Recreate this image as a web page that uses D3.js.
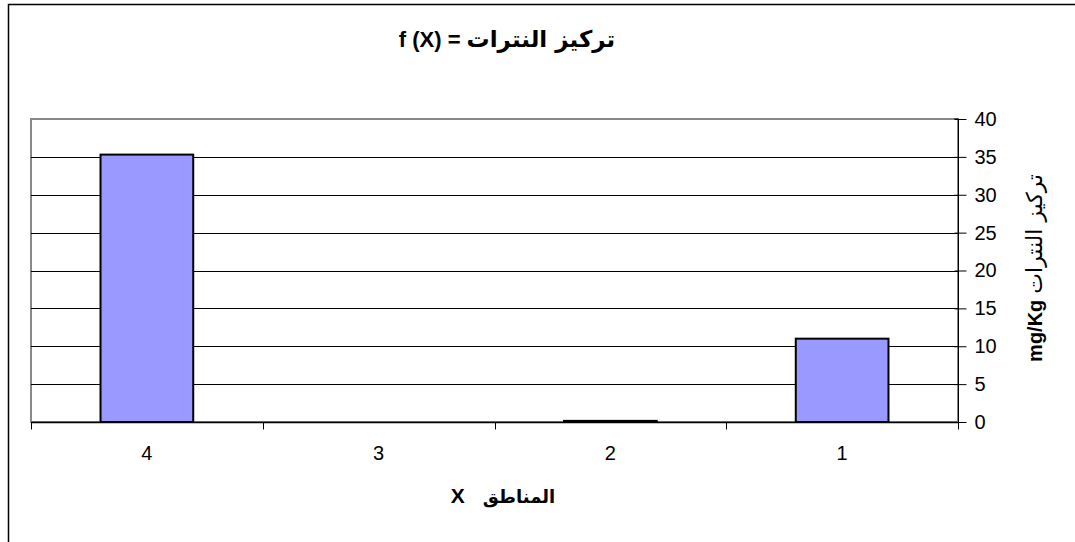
<!DOCTYPE html>
<html>
<head>
<meta charset="utf-8">
<script src="https://cdn.jsdelivr.net/npm/d3@7"></script>
<style>
  html, body { margin: 0; padding: 0; background: #fff; }
  svg { display: block; }
  text { font-family: "Liberation Sans", Arial, sans-serif; fill: #000; }
</style>
</head>
<body>
<svg id="chart" width="1075" height="542"></svg>
<script>
// Regions (shown right-to-left order) and nitrate concentration, mg/Kg
const categories = ["4", "3", "2", "1"];
const values = [35.3, 0, 0.15, 11];
const yTicks = [0, 5, 10, 15, 20, 25, 30, 35, 40];

const arabicFont = "DejaVu Sans, sans-serif";

const svg = d3.select("#chart");
const W = 1075, H = 542;
const plot = { left: 31, top: 119, right: 958, bottom: 422 };

// Outer chart border (only left and top edges fall inside the view)
svg.append("rect")
  .attr("x", 8.5).attr("y", 4.5)
  .attr("width", W + 20).attr("height", H + 20)
  .attr("fill", "#fff").attr("stroke", "#000").attr("stroke-width", 1.5);

const x = d3.scaleBand()
  .domain(categories)
  .range([plot.left, plot.right])
  .paddingInner(0.6).paddingOuter(0.3);

const y = d3.scaleLinear()
  .domain([0, 40])
  .range([plot.bottom, plot.top]);

// Plot area frame
svg.append("rect")
  .attr("x", plot.left).attr("y", plot.top)
  .attr("width", plot.right - plot.left).attr("height", plot.bottom - plot.top)
  .attr("fill", "#fff").attr("stroke", "#888").attr("stroke-width", 2);

// Horizontal gridlines
svg.append("g")
  .selectAll("line")
  .data(yTicks.filter(d => d > 0 && d < 40))
  .join("line")
  .attr("x1", plot.left).attr("x2", plot.right)
  .attr("y1", d => Math.round(y(d)) + 0.5).attr("y2", d => Math.round(y(d)) + 0.5)
  .attr("stroke", "#000").attr("stroke-width", 1);

// Bars
svg.append("g")
  .selectAll("rect")
  .data(categories.map((c, i) => ({ c, v: values[i] })).filter(d => d.v > 0))
  .join("rect")
  .attr("x", d => x(d.c))
  .attr("y", d => y(d.v))
  .attr("width", x.bandwidth())
  .attr("height", d => Math.max(0, y(0) - y(d.v)))
  .attr("fill", "#9999ff")
  .attr("stroke", "#000")
  .attr("stroke-width", 2);

// Y axis on the right
const yAxis = d3.axisRight(y).tickValues(yTicks).tickSize(8).tickPadding(8);
const gy = svg.append("g")
  .attr("transform", `translate(${plot.right + 0.5},0)`)
  .call(yAxis);
gy.select(".domain").attr("stroke", "#000").attr("d", `M-4,${plot.top}H0V${plot.bottom}`);
gy.selectAll(".tick line").attr("x1", -4).attr("x2", 8).attr("stroke", "#000");
gy.selectAll(".tick text")
  .attr("font-size", 20)
  .attr("font-family", "Liberation Sans, Arial, sans-serif")
  .attr("fill", "#000");

// X axis with ticks at category boundaries
const gx = svg.append("g").attr("transform", `translate(0,${plot.bottom + 0.5})`);
gx.append("line")
  .attr("x1", plot.left).attr("x2", plot.right + 1)
  .attr("stroke", "#000").attr("stroke-width", 1.5);
const step = x.step();
const boundaries = categories.map((c, i) => plot.left + i * step).concat([plot.right]);
gx.selectAll("line.b")
  .data(boundaries)
  .join("line")
  .attr("class", "b")
  .attr("x1", d => Math.round(d) + 0.5).attr("x2", d => Math.round(d) + 0.5)
  .attr("y1", 0).attr("y2", 7)
  .attr("stroke", "#000");
gx.selectAll("text")
  .data(categories)
  .join("text")
  .attr("x", d => x(d) + x.bandwidth() / 2)
  .attr("y", 37)
  .attr("text-anchor", "middle")
  .attr("font-size", 20)
  .text(d => d);

// Chart title: f (X) = nitrate concentration
const title = svg.append("text")
  .attr("x", 507).attr("y", 47)
  .attr("text-anchor", "middle")
  .attr("font-weight", "bold");
title.append("tspan").attr("font-size", 22).text("f (X) = ");
title.append("tspan").attr("font-size", 23).attr("font-family", arabicFont).text("تركيز النترات");

// X axis title: regions X
const xt = svg.append("text")
  .attr("x", 503).attr("y", 503)
  .attr("text-anchor", "middle")
  .attr("font-weight", "bold");
xt.append("tspan").attr("font-size", 21).text("X");
xt.append("tspan").attr("dx", 18).attr("font-size", 18).attr("font-family", arabicFont).text("المناطق");

// Y axis title: nitrate concentration mg/Kg
const yt = svg.append("text")
  .attr("transform", `translate(1042,268) rotate(-90)`)
  .attr("text-anchor", "middle")
  .attr("font-weight", "bold");
yt.append("tspan").attr("font-size", 20).text("mg/Kg");
yt.append("tspan").attr("dx", 6).attr("font-size", 22).attr("font-weight", "normal").attr("font-family", arabicFont).text("تركيز النترات");
</script>
</body>
</html>
